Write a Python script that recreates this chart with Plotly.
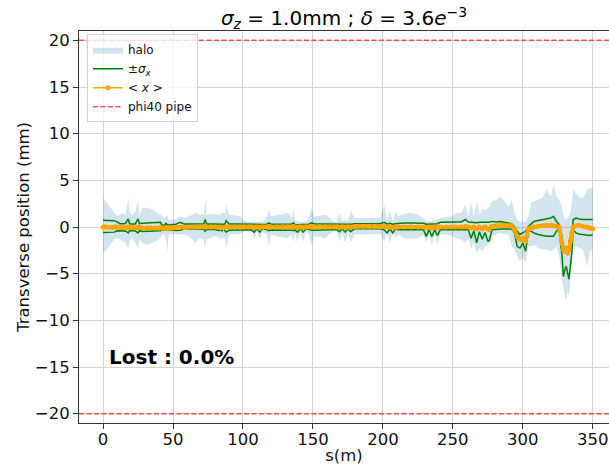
import plotly.graph_objects as go

# ---------------- data ----------------
s = [0, 1, 2, 4, 6, 8, 10, 12, 14, 16, 18, 19, 21, 23, 25, 26, 28, 31, 34, 37,
     40, 41, 42, 44, 45, 46, 47, 49, 52, 55, 58, 61, 64, 66, 69, 72, 73, 74, 77, 80,
     83, 84, 85, 86, 87, 88, 90, 94, 98, 101, 104, 106, 108, 110, 112, 114, 117, 118.5, 120, 124,
     128, 132, 135, 136, 137, 139, 141, 143, 145, 147, 149, 151, 155, 159, 162, 165, 167, 169, 171, 173,
     175, 177, 180, 182, 186, 190, 194, 198, 201, 203, 205, 207, 209, 211, 215, 220, 225, 229, 231, 233,
     235, 237, 239, 241, 245, 249, 252, 256, 259, 261, 263, 265, 267, 269, 271, 273, 275, 276, 278, 281,
     284, 287, 290, 292, 294, 296, 298, 300, 302, 304, 306, 308, 311, 314, 317, 320, 322, 324, 326, 328,
     329, 330, 331, 332, 333, 334, 335, 336, 338, 340, 343, 346, 348, 350]

x_mean = [0.0, 0.0, 0.0, -0.02, -0.02, 0.0, 0.0, -0.05, -0.05, -0.05, 0.0, -0.05, -0.05, -0.08, 0.0, -0.05, -0.1, -0.12, -0.12, -0.1,
          -0.1, -0.08, -0.12, -0.15, -0.1, -0.15, -0.12, -0.1, -0.05, -0.03, -0.05, -0.03, 0.0, 0.0, 0.0, 0.0, 0.02, 0.0, 0.0, 0.0,
          -0.02, -0.05, -0.02, -0.05, -0.02, 0.0, 0.0, 0.0, 0.0, 0.0, 0.0, 0.0, -0.05, 0.0, -0.05, 0.0, 0.0, 0.02, 0.0, 0.0,
          0.0, 0.0, 0.0, 0.02, 0.0, -0.05, 0.0, -0.05, 0.0, 0.0, 0.02, 0.0, 0.0, 0.0, 0.0, 0.0, 0.0, -0.05, 0.0, -0.05,
          0.0, -0.05, 0.05, 0.07, 0.07, 0.07, 0.07, 0.05, 0.05, 0.0, 0.0, -0.05, 0.0, 0.0, 0.0, 0.0, 0.0, 0.0, -0.1, 0.0,
          -0.1, 0.0, -0.1, 0.0, 0.0, 0.0, 0.0, 0.0, 0.05, 0.0, -0.1, 0.0, -0.2, 0.0, -0.2, 0.0, -0.2, -0.3, 0.07, 0.14,
          0.18, 0.18, 0.14, 0.14, -0.3, -1.0, -1.36, -1.2, -1.5, -0.2, -0.1, 0.0, 0.07, 0.14, 0.18, 0.18, 0.14, 0.07, 0.0, -1.7,
          -2.4, -2.6, -2.25, -2.8, -2.4, -1.5, -0.64, 0.0, 0.14, 0.18, 0.07, 0.0, -0.1, -0.2]

sigma_upper = [0.75, 0.7, 0.7, 0.7, 0.7, 0.68, 0.55, 0.36, 0.36, 0.38, 0.86, 0.35, 0.33, 0.33, 0.86, 0.36, 0.4, 0.42, 0.43, 0.42,
               0.42, 0.5, 0.22, 0.2, 0.4, 0.22, 0.22, 0.25, 0.3, 0.5, 0.32, 0.32, 0.33, 0.4, 0.33, 0.35, 0.8, 0.32, 0.32, 0.32,
               0.3, 0.3, 0.32, 0.3, 0.3, 0.68, 0.32, 0.32, 0.3, 0.35, 0.28, 0.28, 0.25, 0.28, 0.25, 0.28, 0.3, 0.45, 0.3, 0.32,
               0.33, 0.33, 0.32, 0.45, 0.28, 0.25, 0.28, 0.25, 0.28, 0.3, 0.45, 0.32, 0.32, 0.32, 0.3, 0.28, 0.28, 0.3, 0.28, 0.25,
               0.28, 0.3, 0.35, 0.36, 0.36, 0.36, 0.36, 0.36, 0.5, 0.3, 0.4, 0.3, 0.35, 0.4, 0.43, 0.43, 0.43, 0.4, 0.3, 0.3,
               0.3, 0.3, 0.35, 0.5, 0.54, 0.54, 0.54, 0.54, 0.8, 0.54, 0.5, 0.5, 0.45, 0.5, 0.5, 0.5, 0.5, 0.5, 0.6, 0.54,
               0.6, 0.5, 0.43, 0.36, 0.07, -0.46, -0.8, -0.64, -0.46, 0.07, 0.36, 0.6, 0.7, 0.8, 0.86, 0.96, 1.14, 0.6, 0.25, -1.0,
               -2.1, -2.7, -2.6, -3.0, -2.8, -2.1, -1.0, 0.8, 0.96, 0.86, 0.8, 0.8, 0.86, 0.8]

sigma_lower = [-0.6, -0.6, -0.58, -0.57, -0.57, -0.55, -0.4, -0.4, -0.42, -0.42, -0.64, -0.4, -0.4, -0.42, -0.64, -0.4, -0.48, -0.48, -0.46, -0.46,
               -0.45, -0.4, -0.3, -0.32, -0.3, -0.35, -0.32, -0.3, -0.38, -0.35, -0.22, -0.2, -0.2, -0.25, -0.22, -0.25, -0.46, -0.25, -0.28, -0.28,
               -0.4, -0.15, -0.4, -0.15, -0.4, -0.54, -0.36, -0.36, -0.34, -0.3, -0.3, -0.3, -0.55, -0.2, -0.55, -0.2, -0.3, -0.4, -0.32, -0.36,
               -0.36, -0.36, -0.34, -0.4, -0.3, -0.55, -0.2, -0.55, -0.2, -0.3, -0.35, -0.34, -0.34, -0.34, -0.3, -0.28, -0.28, -0.5, -0.2, -0.55,
               -0.2, -0.5, -0.15, -0.18, -0.18, -0.18, -0.18, -0.18, -0.3, -0.64, -0.2, -0.64, -0.2, -0.3, -0.29, -0.29, -0.29, -0.3, -1.0, -0.3,
               -1.0, -0.3, -0.9, -0.3, -0.3, -0.3, -0.3, -0.3, -0.35, -0.3, -1.2, -0.4, -1.7, -0.5, -1.3, -0.6, -1.5, -1.5, -0.3, -0.22,
               -0.22, -0.22, -0.22, -0.22, -0.64, -2.1, -2.25, -1.7, -2.6, -0.46, -0.46, -0.64, -0.8, -0.9, -1.0, -1.0, -1.0, -0.46, -0.2, -3.1,
               -5.3, -4.6, -4.2, -4.9, -5.6, -4.2, -2.8, -0.3, -0.64, -0.75, -0.8, -0.8, -0.9, -0.8]

halo_max = [3.1, 2.9, 2.75, 2.4, 2.0, 1.5, 1.15, 1.3, 1.5, 1.3, 3.1, 1.5, 1.3, 1.6, 2.9, 1.3, 2.0, 2.1, 1.95, 1.7,
            1.3, 1.4, 1.15, 0.96, 1.2, 1.15, 0.8, 0.8, 0.8, 1.15, 0.96, 1.15, 1.3, 1.5, 1.3, 1.3, 3.1, 1.3, 1.4, 1.4,
            1.3, 1.35, 1.5, 1.5, 1.4, 2.4, 1.3, 1.25, 1.15, 0.68, 0.54, 0.54, 0.6, 0.54, 0.6, 0.54, 1.15, 1.85, 1.15, 1.25,
            1.4, 1.5, 0.96, 2.0, 0.8, 0.6, 0.54, 0.6, 0.6, 0.96, 2.0, 1.15, 1.25, 1.3, 0.96, 0.54, 0.54, 1.5, 0.6, 0.8,
            0.6, 1.7, 0.96, 0.96, 1.0, 0.96, 1.0, 0.96, 2.4, 0.6, 1.85, 0.6, 1.7, 1.15, 1.4, 1.5, 1.3, 0.96, 0.68, 0.6,
            0.68, 0.6, 0.8, 0.96, 1.05, 1.15, 1.5, 1.5, 2.4, 1.15, 2.6, 1.15, 2.75, 1.3, 2.0, 1.8, 2.0, 2.2, 2.75, 2.9,
            3.3, 2.75, 2.2, 2.9, 1.5, 0.8, 0.5, 0.6, 0.6, 1.15, 2.6, 2.75, 2.9, 3.1, 4.0, 3.3, 4.5, 3.3, 2.9, 2.2,
            1.2, 0.8, 1.0, 0.9, 1.2, 1.5, 2.6, 4.0, 3.6, 3.3, 3.1, 4.0, 4.2, 4.0]

halo_min = [-2.8, -2.7, -2.6, -2.1, -1.7, -1.35, -1.2, -1.35, -1.5, -1.7, -2.25, -1.5, -1.2, -1.7, -2.25, -1.35, -1.7, -1.9, -1.8, -1.6,
            -1.35, -1.2, -0.8, -0.8, -1.5, -2.6, -0.8, -0.75, -0.75, -0.8, -0.8, -1.0, -1.35, -1.7, -1.2, -1.35, -2.4, -1.35, -1.2, -1.0,
            -1.2, -1.3, -1.2, -1.2, -1.1, -2.4, -0.8, -0.8, -0.75, -0.46, -0.46, -0.46, -1.35, -0.46, -1.35, -0.6, -0.8, -2.1, -0.8, -1.0,
            -1.1, -1.2, -0.8, -1.7, -0.64, -1.54, -0.46, -1.6, -0.54, -0.8, -1.9, -1.0, -1.1, -1.2, -0.75, -0.46, -0.46, -1.6, -0.64, -1.7,
            -0.64, -1.6, -0.8, -0.8, -0.75, -0.8, -0.8, -0.75, -1.5, -0.46, -1.7, -0.64, -1.2, -0.8, -1.2, -1.25, -1.2, -0.8, -1.7, -0.64,
            -2.1, -0.64, -1.9, -0.8, -0.8, -0.9, -1.2, -1.35, -1.7, -1.2, -2.25, -1.7, -2.8, -2.25, -2.6, -2.1, -2.0, -1.7, -1.0, -0.8,
            -0.64, -0.8, -0.8, -2.1, -2.4, -3.1, -3.7, -3.3, -3.9, -2.1, -2.1, -1.9, -2.25, -2.4, -2.4, -2.6, -2.4, -2.1, -3.1, -5.6,
            -6.7, -7.4, -7.8, -7.0, -7.4, -5.6, -3.1, -2.1, -2.1, -2.25, -2.4, -4.2, -2.6, -2.4]

pipe_radius = 20.0
lost_pct = 0.0
sigma_z_mm = 1.0
delta_txt = "3.6"

x_ticks = [0, 50, 100, 150, 200, 250, 300, 350]
y_ticks = [-20, -15, -10, -5, 0, 5, 10, 15, 20]

# ---------------- figure ----------------
FONT = "DejaVu Sans"
HALO = "rgba(31,119,180,0.2)"
GREEN = "#008000"
ORANGE = "#FFA500"
PIPE = "rgba(255,40,40,0.8)"

fig = go.Figure()

fig.add_trace(go.Scatter(x=s, y=halo_min, mode="lines", line=dict(width=0, color=HALO),
                         showlegend=False, hoverinfo="skip"))
fig.add_trace(go.Scatter(x=s, y=halo_max, mode="lines", line=dict(width=0, color=HALO),
                         fill="tonexty", fillcolor=HALO, name="halo"))

fig.add_trace(go.Scatter(x=s, y=sigma_upper, mode="lines", line=dict(color=GREEN, width=1.5),
                         name="±<i>σ</i><sub><i>x</i></sub>", legendgroup="sig"))
fig.add_trace(go.Scatter(x=s, y=sigma_lower, mode="lines", line=dict(color=GREEN, width=1.5),
                         showlegend=False, legendgroup="sig"))

fig.add_trace(go.Scatter(x=s, y=x_mean, mode="lines+markers", line=dict(color=ORANGE, width=4),
                         marker=dict(color=ORANGE, size=5), showlegend=False, legendgroup="mean"))
# legend swatch for <x> (thin line with a dot, as in the reference legend)
fig.add_trace(go.Scatter(x=[None], y=[None], mode="lines+markers", line=dict(color=ORANGE, width=1.5),
                         marker=dict(color=ORANGE, size=5), name="&lt; <i>x</i> &gt;", legendgroup="mean"))

for i, yv in enumerate([pipe_radius, -pipe_radius]):
    fig.add_shape(type="line", xref="x domain", yref="y", x0=0, x1=1, y0=yv, y1=yv,
                  line=dict(color=PIPE, width=1.5, dash="5px,2.5px"),
                  showlegend=(i == 0), name="phi40 pipe", legendrank=2000)

fig.add_annotation(text=f"<b>Lost : {lost_pct:.1f}%</b>", x=2.5, y=-13.9, xref="x", yref="y",
                   xanchor="left", yanchor="middle", showarrow=False,
                   font=dict(family=FONT, size=20, color="black"))

fig.update_layout(
    width=609, height=465,
    margin=dict(l=79, r=0, t=31, b=42, autoexpand=False),
    paper_bgcolor="white", plot_bgcolor="white",
    font=dict(family=FONT, size=16.5, color="#111"),
    title=dict(text=f"<i>σ</i><sub><i>z</i></sub> = {sigma_z_mm:.1f}mm ; <i>δ</i> = {delta_txt}<i>e</i><sup>−3</sup>",
               x=0.5, xref="paper", xanchor="center", y=1 - 18 / 465, yref="container", yanchor="middle",
               font=dict(family=FONT, size=20, color="black")),
    legend=dict(x=0.015, y=0.992, xanchor="left", yanchor="top",
                bgcolor="rgba(255,255,255,0.8)", bordercolor="#d0d0d0", borderwidth=1,
                font=dict(family=FONT, size=12, color="#111"), tracegroupgap=0,
                itemwidth=30),
    showlegend=True,
)

fig.update_xaxes(range=[-17.2, 361.6], tickvals=x_ticks, showgrid=True, gridcolor="#d3d3d3", gridwidth=1,
                 showline=True, linecolor="#333", linewidth=1, mirror=True, ticks="outside", ticklen=5,
                 tickcolor="#333", zeroline=False, automargin=False, ticklabelstandoff=-4,
                 title=dict(text="s(m)", standoff=0, font=dict(size=16.5)),
                 tickfont=dict(size=16.5))
fig.update_yaxes(range=[-21, 21], tickvals=y_ticks, showgrid=True, gridcolor="#d3d3d3", gridwidth=1,
                 showline=True, linecolor="#333", linewidth=1, ticks="outside", ticklen=5,
                 tickcolor="#333", zeroline=False, automargin=False,
                 title=dict(text="Transverse position (mm)", standoff=1, font=dict(size=16.5)),
                 tickfont=dict(size=16.5))

fig.write_html("out.html", config={"displayModeBar": False},
               post_script="document.body.style.margin='0';document.body.style.padding='0';")
